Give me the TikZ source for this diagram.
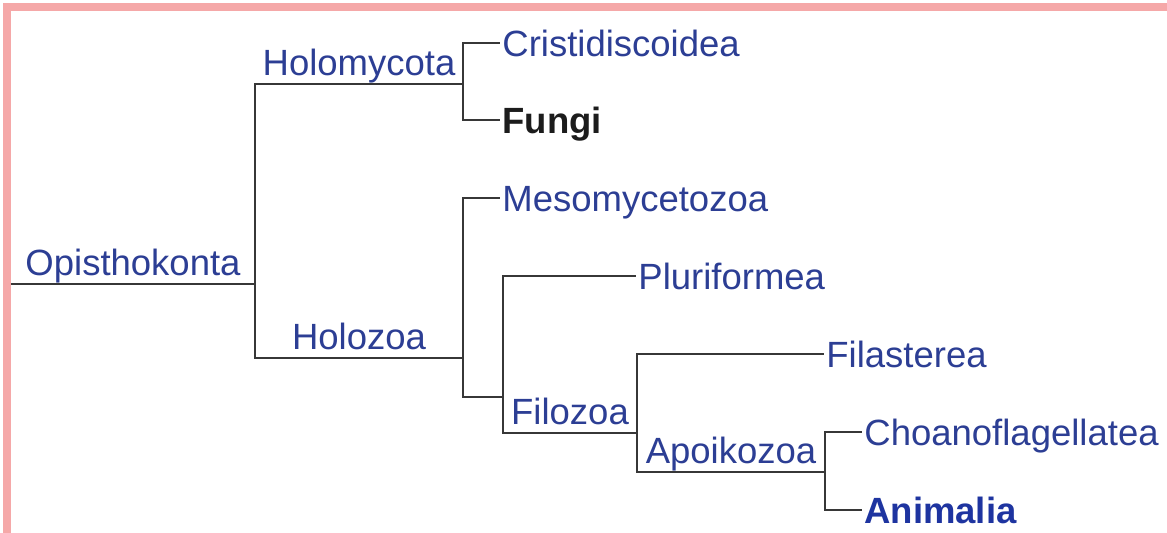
\documentclass[tikz,border=0pt]{standalone}
\usepackage{fontspec}
\setmainfont{Liberation Sans}
\usepackage{xcolor}

\definecolor{taxonblue}{RGB}{44,62,148}
\definecolor{keyblue}{RGB}{30,52,160}
\definecolor{keyblack}{RGB}{28,28,28}
\definecolor{branchgrey}{RGB}{55,55,55}
\definecolor{framepink}{RGB}{245,168,168}
\newcommand{\treefont}{\fontsize{18.25}{22}\selectfont}

\begin{document}
\begin{tikzpicture}[x=0.5pt, y=-0.5pt,
    branch/.style={draw=branchgrey, line width=1.25pt},
    taxon/.style={anchor=west, inner sep=1pt, text height=13.1pt, text depth=0pt,
      font=\treefont, text=taxonblue},
    keytaxon/.style={taxon, font=\treefont\bfseries},
    clade/.style={anchor=base, inner sep=0pt, yshift=4pt, font=\treefont, text=taxonblue}]
  \useasboundingbox[fill=white] (0, 0) rectangle (1167, 533);
  \draw[framepink, line width=4pt] (7, 533) -- (7, 7) -- (1167, 7);

  \coordinate (root) at (11, 284);
  \coordinate (opi) at (255, 284);
  \coordinate (holomy) at (463, 84);
  \coordinate (holozo) at (463, 358);
  \coordinate (plufil) at (503, 397);
  \coordinate (filozo) at (637, 433);
  \coordinate (apoiko) at (825, 472);

  \node[taxon] (cristi) at (500, 43) {Cristidiscoidea};
  \node[keytaxon, text=keyblack] (fungi) at (500, 120) {Fungi};
  \node[taxon] (meso) at (500, 198) {Mesomycetozoa};
  \node[taxon] (pluri) at (636, 276) {Pluriformea};
  \node[taxon] (filas) at (824, 354) {Filasterea};
  \node[taxon] (choano) at (862, 432) {Choanoflagellatea};
  \node[keytaxon, text=keyblue] (animal) at (862, 510) {Animalia};

  \draw[branch] (root) -- node[clade] {Opisthokonta} (opi);
  \draw[branch] (opi) |- node[clade, pos=.75] {Holomycota} (holomy);
  \draw[branch] (opi) |- node[clade, pos=.75] {Holozoa} (holozo);
  \draw[branch] (holomy) |- (cristi.west);
  \draw[branch] (holomy) |- (fungi.west);
  \draw[branch] (holozo) |- (meso.west);
  \draw[branch] (holozo) |- (plufil);
  \draw[branch] (plufil) |- (pluri.west);
  \draw[branch] (plufil) |- node[clade, pos=.75] {Filozoa} (filozo);
  \draw[branch] (filozo) |- (filas.west);
  \draw[branch] (filozo) |- node[clade, pos=.75] {Apoikozoa} (apoiko);
  \draw[branch] (apoiko) |- (choano.west);
  \draw[branch] (apoiko) |- (animal.west);
\end{tikzpicture}
\end{document}
